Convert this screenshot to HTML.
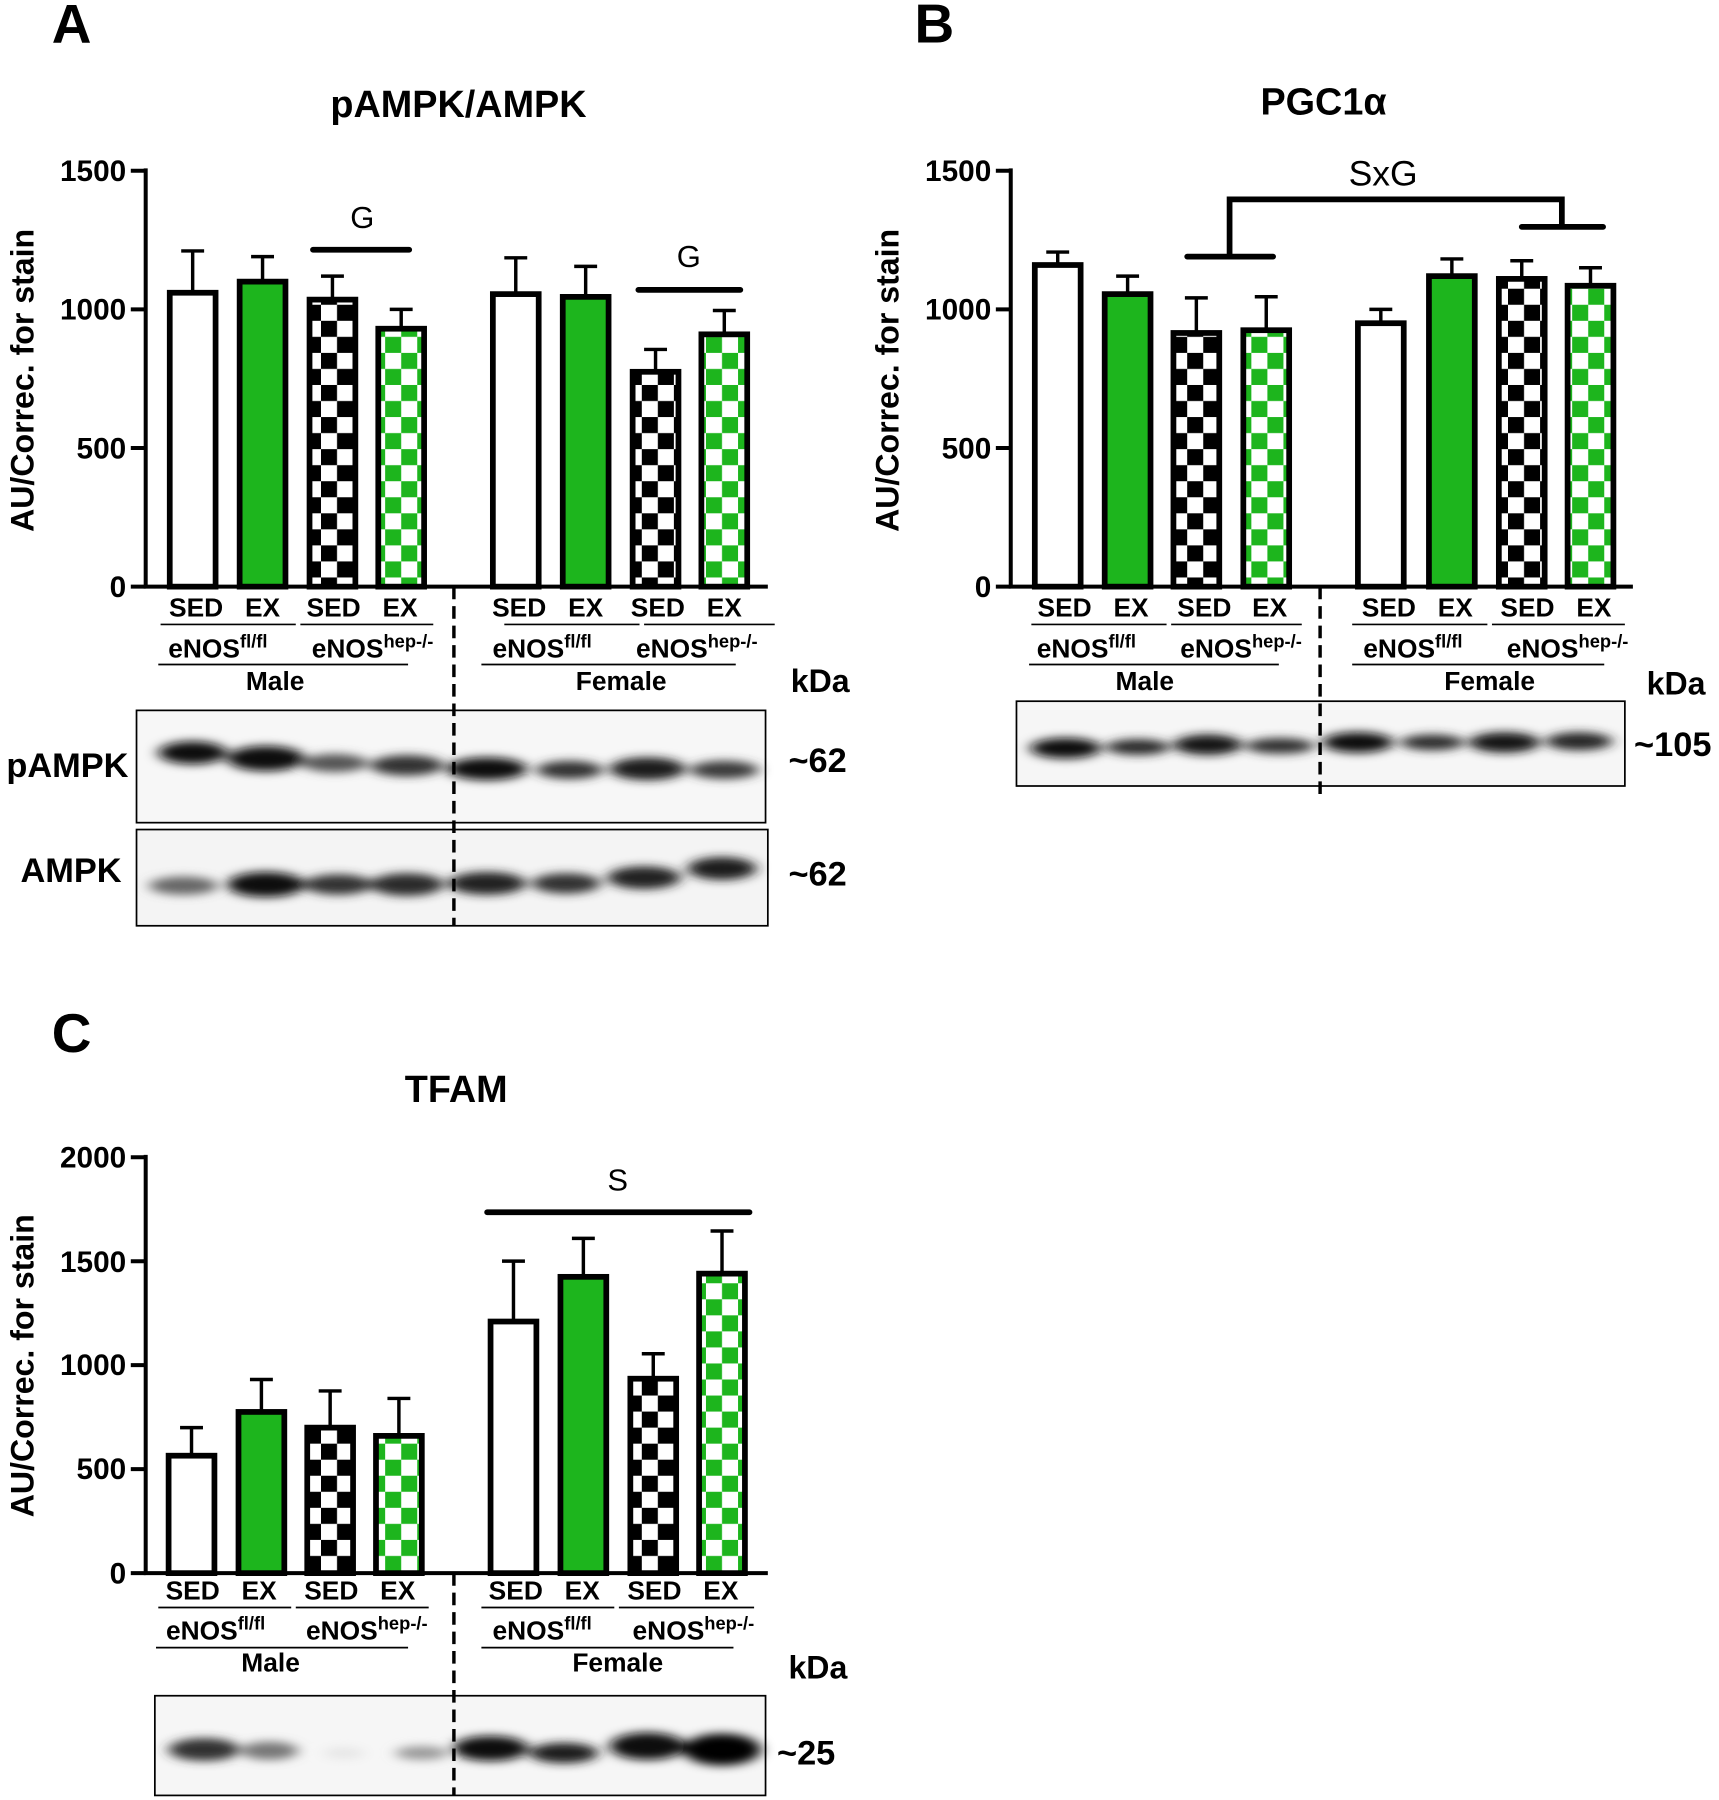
<!DOCTYPE html>
<html><head><meta charset="utf-8"><style>
html,body{margin:0;padding:0;background:#fff}
svg{display:block}
text{font-family:"Liberation Sans",Arial,sans-serif;font-weight:bold;fill:#000}
.t{font-size:23px}
.n{font-weight:normal}
</style></head><body>
<svg width="1719" height="1800" viewBox="0 0 1500 1571" xmlns="http://www.w3.org/2000/svg">
<defs>
<filter id="bl" x="-30%" y="-150%" width="160%" height="400%"><feGaussianBlur stdDeviation="6 4"/></filter>
<pattern id="pk" width="28" height="28" patternUnits="userSpaceOnUse"><rect width="28" height="28" fill="#fff"/><rect width="14" height="14" fill="#000"/><rect x="14" y="14" width="14" height="14" fill="#000"/></pattern>
<pattern id="pg" width="28" height="28" patternUnits="userSpaceOnUse"><rect width="28" height="28" fill="#fff"/><rect x="14" width="14" height="14" fill="#1db51d"/><rect y="14" width="14" height="14" fill="#1db51d"/></pattern>
</defs>

<!-- ============ PANEL A ============ -->
<text x="45" y="37" style="font-size:48px">A</text>
<text x="400" y="102" text-anchor="middle" style="font-size:33px">pAMPK/AMPK</text>
<text transform="translate(29,332) rotate(-90)" text-anchor="middle" style="font-size:28px">AU/Correc. for stain</text>
<g stroke="#000" stroke-width="3.5" fill="none">
<path d="M127,147V512H670"/>
<path d="M114,149H127M114,270H127M114,391H127M114,512H127"/>
</g>
<g text-anchor="end" style="font-size:26px">
<text x="110" y="158">1500</text><text x="110" y="279">1000</text><text x="110" y="400">500</text><text x="110" y="521">0</text>
</g>
<g stroke="#000" stroke-width="5">
<rect x="148" y="255.5" width="40" height="256.5" fill="#fff"/>
<rect x="209" y="245.8" width="40" height="266.2" fill="#1db51d"/>
<rect x="270" y="261.5" width="40" height="250.5" fill="url(#pk)"/>
<rect x="330" y="286.9" width="40" height="225.1" fill="url(#pg)"/>
<rect x="430" y="256.7" width="40" height="255.3" fill="#fff"/>
<rect x="491" y="259.1" width="40" height="252.9" fill="#1db51d"/>
<rect x="552" y="324.5" width="40" height="187.5" fill="url(#pk)"/>
<rect x="612" y="291.8" width="40" height="220.2" fill="url(#pg)"/>
</g>
<g stroke="#000" stroke-width="3" fill="none">
<path d="M168,255V219M158,219H178M229,245V224M219,224H239M290,261V241M280,241H300M350,286V270M340,270H360M450,256V225M440,225H460M511,259V232.5M501,232.5H521M572,324V305M562,305H582M632,291V271M622,271H642"/>
</g>
<path d="M273,218H357M557,253H646" stroke="#000" stroke-width="5" stroke-linecap="round"/>
<text x="316" y="199" text-anchor="middle" class="n" style="font-size:27px">G</text>
<text x="601" y="233" text-anchor="middle" class="n" style="font-size:27px">G</text>
<g class="t" text-anchor="middle">
<text x="171" y="538">SED</text><text x="229" y="538">EX</text><text x="291" y="538">SED</text><text x="349" y="538">EX</text>
<text x="453" y="538">SED</text><text x="511" y="538">EX</text><text x="574" y="538">SED</text><text x="632" y="538">EX</text>
<text x="190" y="574">eNOS<tspan dy="-9" style="font-size:16px">fl/fl</tspan></text>
<text x="325" y="574">eNOS<tspan dy="-9" style="font-size:16px">hep-/-</tspan></text>
<text x="473" y="574">eNOS<tspan dy="-9" style="font-size:16px">fl/fl</tspan></text>
<text x="608" y="574">eNOS<tspan dy="-9" style="font-size:16px">hep-/-</tspan></text>
<text x="240" y="602">Male</text><text x="542" y="602">Female</text>
</g>
<g stroke="#000" stroke-width="1.5">
<path d="M140,545H258M262,545H378M440,545H558M562,545H676M138,580H356M420,580H642"/>
</g>
<text x="690" y="604" style="font-size:28px">kDa</text>
<rect x="119" y="620" width="549" height="98" fill="#f7f7f7" stroke="#000" stroke-width="1.5"/>
<rect x="119" y="724" width="551" height="84" fill="#f4f4f4" stroke="#000" stroke-width="1.5"/>
<g filter="url(#bl)">
<ellipse cx="168" cy="657" rx="30" ry="10" fill="#111"/>
<ellipse cx="232" cy="662" rx="34" ry="11" fill="#0a0a0a"/>
<ellipse cx="292" cy="666" rx="29" ry="8" fill="#555"/>
<ellipse cx="355" cy="668" rx="32" ry="9" fill="#333"/>
<ellipse cx="425" cy="671" rx="35" ry="10" fill="#111"/>
<ellipse cx="497" cy="672" rx="29" ry="8" fill="#333"/>
<ellipse cx="565" cy="671" rx="33" ry="10" fill="#1a1a1a"/>
<ellipse cx="632" cy="672" rx="30" ry="8" fill="#3a3a3a"/>
<ellipse cx="160" cy="773" rx="30" ry="8" fill="#666"/>
<ellipse cx="232" cy="772" rx="34" ry="11" fill="#111"/>
<ellipse cx="295" cy="772" rx="30" ry="9" fill="#333"/>
<ellipse cx="355" cy="772" rx="32" ry="10" fill="#2a2a2a"/>
<ellipse cx="425" cy="771" rx="34" ry="10" fill="#222"/>
<ellipse cx="494" cy="771" rx="30" ry="9" fill="#333"/>
<ellipse cx="562" cy="766" rx="32" ry="10" fill="#222"/>
<ellipse cx="630" cy="758" rx="30" ry="10" fill="#1a1a1a"/>
</g>
<path d="M396,512V808" stroke="#000" stroke-width="3" stroke-dasharray="11,6"/>
<text x="112" y="678" text-anchor="end" style="font-size:30px">pAMPK</text>
<text x="106" y="770" text-anchor="end" style="font-size:30px">AMPK</text>
<text x="688" y="674" style="font-size:30px">~62</text>
<text x="688" y="773" style="font-size:30px">~62</text>

<!-- ============ PANEL B ============ -->
<text x="798" y="37" style="font-size:48px">B</text>
<text x="1155" y="100" text-anchor="middle" style="font-size:33px">PGC1α</text>
<text transform="translate(784,332) rotate(-90)" text-anchor="middle" style="font-size:28px">AU/Correc. for stain</text>
<g stroke="#000" stroke-width="3.5" fill="none">
<path d="M882,147V512H1425"/>
<path d="M869,149H882M869,270H882M869,391H882M869,512H882"/>
</g>
<g text-anchor="end" style="font-size:26px">
<text x="865" y="158">1500</text><text x="865" y="279">1000</text><text x="865" y="400">500</text><text x="865" y="521">0</text>
</g>
<g stroke="#000" stroke-width="5">
<rect x="903" y="231.3" width="40" height="280.7" fill="#fff"/>
<rect x="964" y="256.7" width="40" height="255.3" fill="#1db51d"/>
<rect x="1024" y="290.6" width="40" height="221.4" fill="url(#pk)"/>
<rect x="1085" y="288.2" width="40" height="223.8" fill="url(#pg)"/>
<rect x="1185" y="282.1" width="40" height="229.9" fill="#fff"/>
<rect x="1247" y="241" width="40" height="271" fill="#1db51d"/>
<rect x="1308" y="243.4" width="40" height="268.6" fill="url(#pk)"/>
<rect x="1368" y="249.4" width="40" height="262.6" fill="url(#pg)"/>
</g>
<g stroke="#000" stroke-width="3" fill="none">
<path d="M923,231V220M913,220H933M984,256V241M974,241H994M1044,290V260M1034,260H1054M1105,288V259M1095,259H1115M1205,282V270M1195,270H1215M1267,241V226M1257,226H1277M1328,243V227.6M1318,227.6H1338M1388,249V233.7M1378,233.7H1398"/>
</g>
<g stroke="#000" stroke-width="5" fill="none">
<path d="M1036,224H1111M1328,198H1399" stroke-linecap="round"/>
<path d="M1073,224V174H1363V198"/>
</g>
<text x="1207" y="162" text-anchor="middle" class="n" style="font-size:31px">SxG</text>
<g class="t" text-anchor="middle">
<text x="929" y="538">SED</text><text x="987" y="538">EX</text><text x="1051" y="538">SED</text><text x="1108" y="538">EX</text>
<text x="1212" y="538">SED</text><text x="1270" y="538">EX</text><text x="1333" y="538">SED</text><text x="1391" y="538">EX</text>
<text x="948" y="574">eNOS<tspan dy="-9" style="font-size:16px">fl/fl</tspan></text>
<text x="1083" y="574">eNOS<tspan dy="-9" style="font-size:16px">hep-/-</tspan></text>
<text x="1233" y="574">eNOS<tspan dy="-9" style="font-size:16px">fl/fl</tspan></text>
<text x="1368" y="574">eNOS<tspan dy="-9" style="font-size:16px">hep-/-</tspan></text>
<text x="999" y="602">Male</text><text x="1300" y="602">Female</text>
</g>
<g stroke="#000" stroke-width="1.5">
<path d="M900,545H1018M1022,545H1136M1180,545H1298M1302,545H1418M898,580H1116M1180,580H1400"/>
</g>
<text x="1437" y="606" style="font-size:28px">kDa</text>
<rect x="887" y="612" width="531" height="74" fill="#f6f6f6" stroke="#000" stroke-width="1.5"/>
<g filter="url(#bl)">
<ellipse cx="930" cy="653" rx="31" ry="9" fill="#111"/>
<ellipse cx="993" cy="652" rx="28" ry="7" fill="#2a2a2a"/>
<ellipse cx="1054" cy="650" rx="30" ry="9" fill="#161616"/>
<ellipse cx="1117" cy="651" rx="30" ry="7" fill="#333"/>
<ellipse cx="1185" cy="648" rx="31" ry="9" fill="#111"/>
<ellipse cx="1250" cy="648" rx="28" ry="7" fill="#2e2e2e"/>
<ellipse cx="1313" cy="648" rx="31" ry="9" fill="#141414"/>
<ellipse cx="1378" cy="647" rx="29" ry="8" fill="#262626"/>
</g>
<path d="M1152,512V695" stroke="#000" stroke-width="3" stroke-dasharray="11,6"/>
<text x="1426" y="660" style="font-size:30px">~105</text>

<!-- ============ PANEL C ============ -->
<text x="45" y="918" style="font-size:48px">C</text>
<text x="398" y="962" text-anchor="middle" style="font-size:33px">TFAM</text>
<text transform="translate(29,1192) rotate(-90)" text-anchor="middle" style="font-size:28px">AU/Correc. for stain</text>
<g stroke="#000" stroke-width="3.5" fill="none">
<path d="M127,1008V1373H670"/>
<path d="M114,1010H127M114,1100.75H127M114,1191.5H127M114,1282.25H127M114,1373H127"/>
</g>
<g text-anchor="end" style="font-size:26px">
<text x="110" y="1019">2000</text><text x="110" y="1110">1500</text><text x="110" y="1200">1000</text><text x="110" y="1291">500</text><text x="110" y="1382">0</text>
</g>
<g stroke="#000" stroke-width="5">
<rect x="147" y="1270.5" width="40" height="102.5" fill="#fff"/>
<rect x="208" y="1232.3" width="40" height="140.7" fill="#1db51d"/>
<rect x="268" y="1246" width="40" height="127" fill="url(#pk)"/>
<rect x="328" y="1253.2" width="40" height="119.8" fill="url(#pg)"/>
<rect x="428" y="1153.4" width="40" height="219.6" fill="#fff"/>
<rect x="489" y="1114.4" width="40" height="258.6" fill="#1db51d"/>
<rect x="550" y="1203.3" width="40" height="169.7" fill="url(#pk)"/>
<rect x="610" y="1111.6" width="40" height="261.4" fill="url(#pg)"/>
</g>
<g stroke="#000" stroke-width="3" fill="none">
<path d="M167,1270V1246M157,1246H177M228,1232V1204M218,1204H238M288,1246V1214M278,1214H298M348,1253V1220.5M338,1220.5H358M448,1153V1100.7M438,1100.7H458M509,1114V1080.8M499,1080.8H519M570,1203V1181.5M560,1181.5H580M630,1111V1074.4M620,1074.4H640"/>
</g>
<path d="M425,1058H654" stroke="#000" stroke-width="5" stroke-linecap="round"/>
<text x="539" y="1039" text-anchor="middle" class="n" style="font-size:27px">S</text>
<g class="t" text-anchor="middle">
<text x="168" y="1396">SED</text><text x="226" y="1396">EX</text><text x="289" y="1396">SED</text><text x="347" y="1396">EX</text>
<text x="450" y="1396">SED</text><text x="508" y="1396">EX</text><text x="571" y="1396">SED</text><text x="629" y="1396">EX</text>
<text x="188" y="1431">eNOS<tspan dy="-9" style="font-size:16px">fl/fl</tspan></text>
<text x="320" y="1431">eNOS<tspan dy="-9" style="font-size:16px">hep-/-</tspan></text>
<text x="473" y="1431">eNOS<tspan dy="-9" style="font-size:16px">fl/fl</tspan></text>
<text x="605" y="1431">eNOS<tspan dy="-9" style="font-size:16px">hep-/-</tspan></text>
<text x="236" y="1459">Male</text><text x="539" y="1459">Female</text>
</g>
<g stroke="#000" stroke-width="1.5">
<path d="M138,1403H254M258,1403H374M420,1403H536M540,1403H658M136,1438H356M420,1438H640"/>
</g>
<text x="688" y="1465" style="font-size:28px">kDa</text>
<rect x="135" y="1480" width="533" height="87" fill="#f6f6f6" stroke="#000" stroke-width="1.5"/>
<g filter="url(#bl)">
<ellipse cx="178" cy="1527" rx="31" ry="10" fill="#333"/>
<ellipse cx="235" cy="1528" rx="25" ry="8" fill="#777"/>
<ellipse cx="300" cy="1530" rx="18" ry="5" fill="#e6e6e6"/>
<ellipse cx="368" cy="1530" rx="23" ry="6" fill="#999"/>
<ellipse cx="428" cy="1526" rx="33" ry="11" fill="#0e0e0e"/>
<ellipse cx="492" cy="1530" rx="30" ry="9" fill="#1e1e1e"/>
<ellipse cx="565" cy="1524" rx="33" ry="12" fill="#0e0e0e"/>
<ellipse cx="630" cy="1527" rx="34" ry="14" fill="#050505"/>
</g>
<path d="M396,1373V1567" stroke="#000" stroke-width="3" stroke-dasharray="11,6"/>
<text x="678" y="1540" style="font-size:30px">~25</text>
</svg>
</body></html>
